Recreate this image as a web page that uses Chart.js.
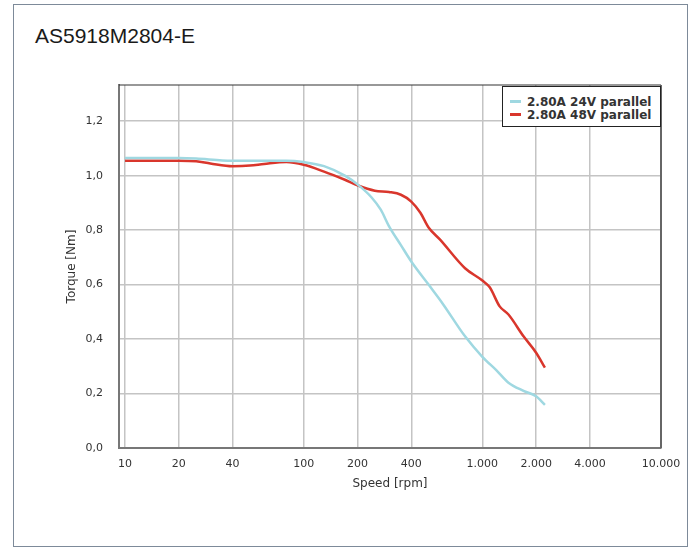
<!DOCTYPE html>
<html><head><meta charset="utf-8">
<script src="https://cdn.jsdelivr.net/npm/chart.js@4"></script>
<style>
html,body{margin:0;padding:0;background:#fff;}
#wrap{position:relative;width:693px;height:547px;overflow:hidden;background:#fff;}
#frame{position:absolute;left:13px;top:4px;width:675px;height:543px;border:1.5px solid #7d8a99;box-sizing:border-box;}
#title{position:absolute;left:35px;top:25px;font:21px "Liberation Sans",Arial,sans-serif;line-height:21px;color:#1a1a1a;white-space:nowrap;}
canvas{position:absolute;left:0;top:0;}
#legend{position:absolute;left:502px;top:86px;width:159px;height:41px;box-sizing:border-box;border:1px solid #222;background:#fff;}
#legend .item{position:absolute;left:0;height:13px;line-height:13px;font:bold 12px "DejaVu Sans",sans-serif;color:#333;white-space:nowrap;}
#legend .mark{position:absolute;left:7px;top:5px;width:11px;height:3px;}
#legend .txt{position:absolute;left:24px;top:0;}
</style>
</head><body>
<div id="wrap">
  <div id="frame"></div>
  <div id="title">AS5918M2804-E</div>
  <canvas id="c" width="693" height="547"></canvas>
  <div id="legend"></div>
</div>
<script>
// ---- data ----
const seriesLabels = ['2.80A 24V parallel', '2.80A 48V parallel'];
const seriesColors = ['#9fd8e1', '#d9362c'];

const speed24 = [10, 20, 25, 35, 40, 60, 80, 100, 130, 170, 200, 240, 270, 300, 350, 400, 500, 600, 800, 1000, 1200, 1400, 1700, 2000, 2240];
const torque24 = [1.065, 1.065, 1.063, 1.056, 1.055, 1.055, 1.055, 1.05, 1.035, 1.0, 0.968, 0.92, 0.875, 0.815, 0.745, 0.685, 0.6, 0.53, 0.41, 0.335, 0.285, 0.24, 0.21, 0.19, 0.158];

const speed48 = [10, 20, 25, 30, 40, 50, 60, 80, 100, 130, 170, 200, 250, 300, 350, 400, 450, 500, 580, 800, 1000, 1100, 1250, 1400, 1700, 2000, 2240];
const torque48 = [1.055, 1.055, 1.053, 1.045, 1.035, 1.037, 1.043, 1.05, 1.04, 1.015, 0.985, 0.965, 0.945, 0.94, 0.93, 0.905, 0.864, 0.81, 0.765, 0.66, 0.615, 0.59, 0.52, 0.49, 0.41, 0.35, 0.295];

const xTickValues = [10, 20, 40, 100, 200, 400, 1000, 2000, 4000, 10000];
const xTickLabels = ['10', '20', '40', '100', '200', '400', '1.000', '2.000', '4.000', '10.000'];
const xMin = 9.25, xMax = 10000;
const yMin = 0, yMax = 1.333, yStep = 0.2;
const xTitle = 'Speed [rpm]';
const yTitle = 'Torque [Nm]';

// ---- chart ----
const speeds = [speed24, speed48];
const torques = [torque24, torque48];
const datasets = seriesLabels.map((lab, k) => ({
  label: lab,
  data: speeds[k].map((s, i) => ({x: s, y: torques[k][i]})),
  borderColor: seriesColors[k],
  backgroundColor: seriesColors[k],
  borderWidth: 2.5,
  pointRadius: 0,
  fill: false,
  cubicInterpolationMode: 'monotone'
}));

const frameBorders = {
  id: 'frameBorders',
  afterDraw(chart) {
    const {ctx, chartArea: a} = chart;
    ctx.save();
    ctx.strokeStyle = '#333';
    ctx.lineWidth = 1.2;
    ctx.beginPath();
    ctx.moveTo(a.left, a.top); ctx.lineTo(a.right, a.top);
    ctx.stroke();
    ctx.strokeStyle = '#666';
    ctx.lineWidth = 2;
    ctx.beginPath();
    ctx.moveTo(a.right, a.top); ctx.lineTo(a.right, a.bottom);
    ctx.stroke();
    ctx.restore();
  }
};

const tickFont = {family: 'DejaVu Sans', size: 11};
const gridOpts = {color: '#c4c4c4', lineWidth: 1.5, drawTicks: false};

new Chart(document.getElementById('c'), {
  type: 'line',
  data: {datasets},
  options: {
    responsive: false,
    animation: false,
    events: [],
    layout: {padding: {top: 85, right: 32, left: 0, bottom: 0}},
    plugins: {legend: {display: false}, tooltip: {enabled: false}, title: {display: false}},
    scales: {
      x: {
        type: 'logarithmic',
        min: xMin, max: xMax,
        afterBuildTicks: s => { s.ticks = xTickValues.map(v => ({value: v})); },
        afterFit: s => { s.height = 99; },
        ticks: {
          autoSkip: false, maxRotation: 0, padding: 10, color: '#333', font: tickFont,
          callback: v => { const i = xTickValues.indexOf(v); return i >= 0 ? xTickLabels[i] : ''; }
        },
        grid: gridOpts,
        border: {display: true, color: '#777', width: 2},
        title: {display: true, text: xTitle, color: '#333', font: {family: 'DejaVu Sans', size: 12}, padding: {top: 0, bottom: 56}}
      },
      y: {
        min: yMin, max: yMax,
        afterFit: s => { s.width = 119; },
        ticks: {
          stepSize: yStep, includeBounds: false, padding: 16, color: '#333', font: tickFont,
          callback: v => Number(v).toFixed(1).replace('.', ',')
        },
        grid: gridOpts,
        border: {display: true, color: '#777', width: 2},
        title: {display: true, text: yTitle, color: '#333', font: {family: 'DejaVu Sans', size: 12}, padding: {top: 65, bottom: 0}}
      }
    }
  },
  plugins: [frameBorders]
});

// ---- legend ----
const leg = document.getElementById('legend');
seriesLabels.forEach((lab, k) => {
  const it = document.createElement('div');
  it.className = 'item';
  it.style.top = (7.5 + k * 13) + 'px';
  it.style.width = '155px';
  const m = document.createElement('div');
  m.className = 'mark';
  m.style.background = seriesColors[k];
  const t = document.createElement('span');
  t.className = 'txt';
  t.textContent = lab;
  it.appendChild(m); it.appendChild(t);
  leg.appendChild(it);
});
</script>
</body></html>
